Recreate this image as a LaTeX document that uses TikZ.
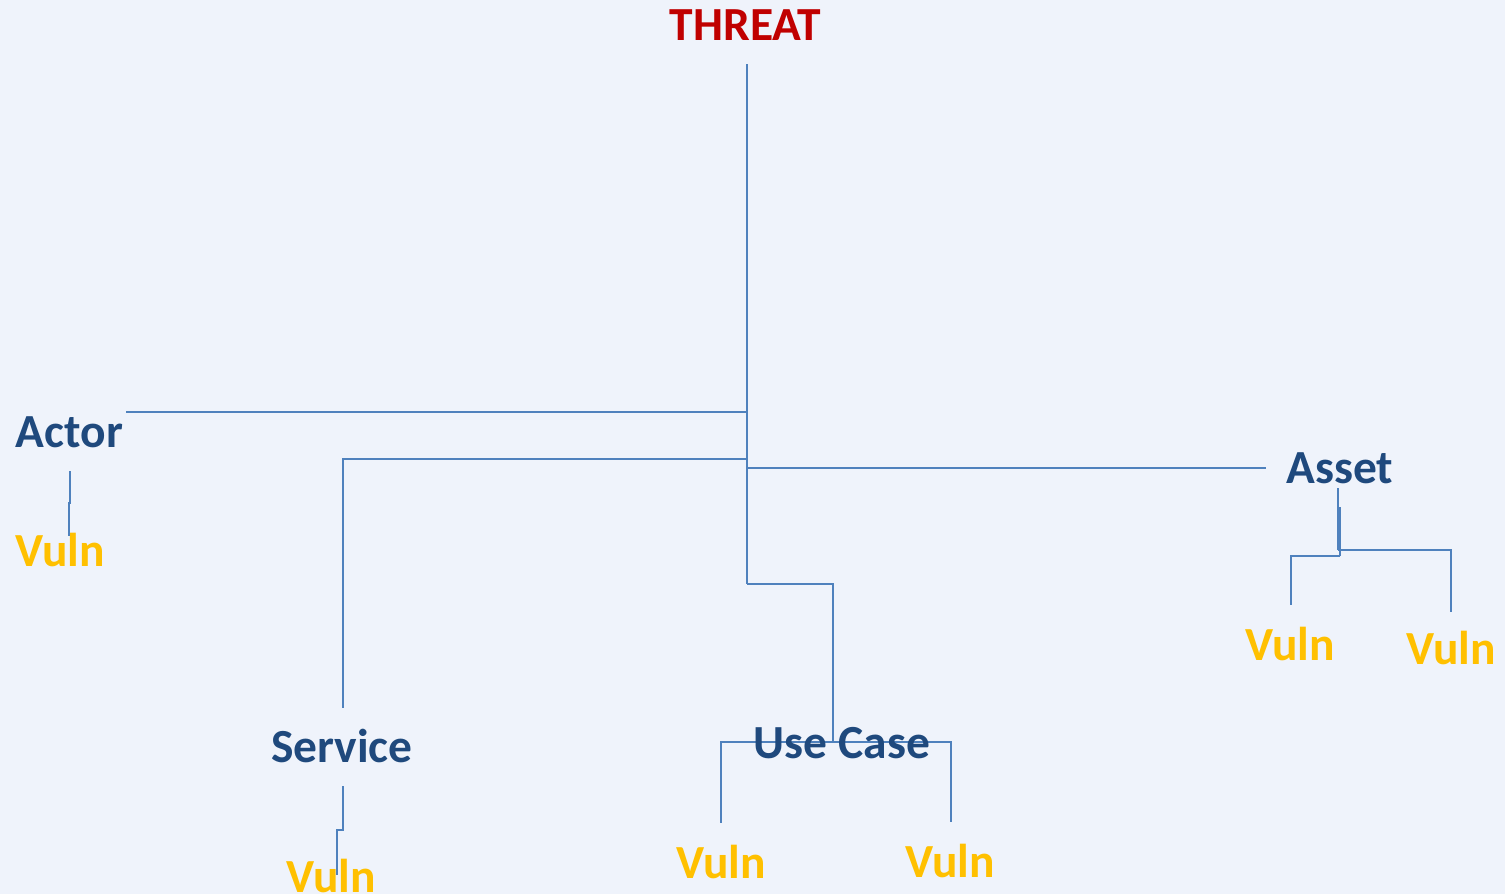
\documentclass[tikz,border=0pt]{standalone}
\usepackage{fontspec}
\setmainfont{Carlito}
\definecolor{bgc}{HTML}{EFF3FB}
\definecolor{linec}{HTML}{4F81BD}
\definecolor{headc}{HTML}{C00000}
\definecolor{entc}{HTML}{1F497D}
\definecolor{vulnc}{HTML}{FFC000}
\tikzset{
  lbl/.style={anchor=base, inner sep=0pt, font=\fontsize{47.5}{52}\selectfont\bfseries},
  head/.style={lbl, text=headc},
  ent/.style={lbl, text=entc},
  vul/.style={lbl, text=vulnc},
  link/.style={draw=linec, line width=2pt}
}
\begin{document}
\begin{tikzpicture}[x=1pt, y=-1pt]
  \fill[bgc] (0,0) rectangle (1505,894);
  \useasboundingbox (0,0) rectangle (1505,894);

  % labels
  \node[head] (threat) at (745.5,40) {THREAT};
  \node[ent] (actor) at (69.5,447) {Actor};
  \node[ent] (asset) at (1340,483) {Asset};
  \node[ent] (service) at (342,762) {Service};
  \node[vul] (vA) at (60,566) {Vuln};
  \node[vul] (vS) at (331,892) {Vuln};
  \node[vul] (vU1) at (721,878) {Vuln};
  \node[vul] (vU2) at (950,877) {Vuln};
  \node[vul] (vT1) at (1290,660) {Vuln};
  \node[vul] (vT2) at (1451,664) {Vuln};

  % trunk and branch points
  \coordinate (tTop) at (747,64);
  \coordinate (tActor) at (747,412);
  \coordinate (tService) at (747,459);
  \coordinate (tAsset) at (747,468);
  \coordinate (tBot) at (747,584);
  \coordinate (actorEnd) at (126,412);
  \coordinate (serviceEnd) at (343,708);
  \coordinate (assetEnd) at (1266,468);

  \draw[link] (tTop) -- (tBot);
  \draw[link] (tActor) -- (actorEnd);
  \draw[link] (tService) -| (serviceEnd);
  \draw[link] (tAsset) -- (assetEnd);

  % use case branch
  \coordinate (ucJoin) at (833,742);
  \coordinate (ucL) at (721,823);
  \coordinate (ucR) at (951,822);
  \draw[link] (tBot) -| (ucJoin);
  \draw[link] (ucJoin) -| (ucL);
  \draw[link] (ucJoin) -| (ucR);
  \node[ent] (usecase) at (842,758) {Use Case};

  % actor vulnerability
  \coordinate (aTop) at (70,471);
  \coordinate (aMid) at (70,503);
  \coordinate (aBot) at (68.5,536);
  \draw[link] (aTop) -- (aMid) -- (68.5,503) -- (aBot);

  % service vulnerability
  \coordinate (sTop) at (343,786);
  \coordinate (sBot) at (337,875);
  \draw[link] (sTop) -- (343,830) -- (337,830) -- (sBot);

  % asset vulnerabilities
  \coordinate (asTop) at (1338,488);
  \coordinate (asJoin) at (1338,550);
  \coordinate (asL) at (1291,605);
  \coordinate (asR) at (1451,612);
  \draw[link] (asTop) -- (asJoin);
  \draw[link] (1340,507) -- (1340,556);
  \draw[link] (asJoin) -| (asR);
  \draw[link] (1340,556) -| (asL);
\end{tikzpicture}
\end{document}
